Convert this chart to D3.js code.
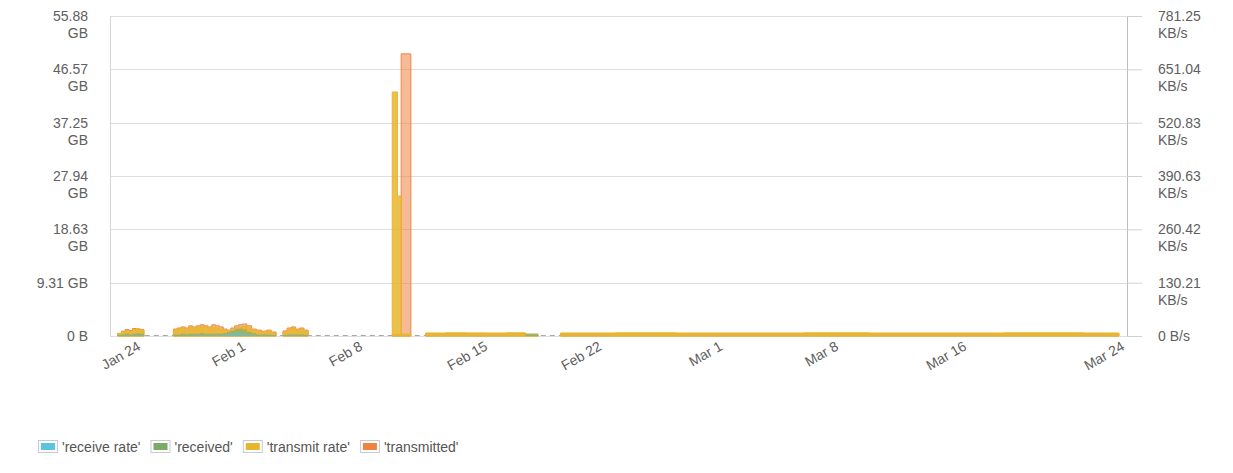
<!DOCTYPE html>
<html>
<head>
<meta charset="utf-8">
<script src="https://cdn.jsdelivr.net/npm/d3@7"></script>
<style>
  body { margin: 0; background: #fff; }
  svg { display: block; font-family: "Liberation Sans", Arial, sans-serif; }
</style>
</head>
<body>
<div id="chart"></div>
<script>
// Network traffic: bytes on the left axis, rates on the right axis

// Sample times (null values below mark gaps in the data)
const times = [
  "2024-01-22T08:00", "2024-01-22T15:00", "2024-01-22T22:00", "2024-01-23T05:00",
  "2024-01-23T12:00", "2024-01-23T19:00", "2024-01-24T02:00", "2024-01-24T09:00",
  "2024-01-25T06:00",
  "2024-01-26T15:00", "2024-01-26T22:00", "2024-01-27T05:00", "2024-01-27T12:00",
  "2024-01-27T19:00", "2024-01-28T02:00", "2024-01-28T09:00", "2024-01-28T16:00",
  "2024-01-28T23:00", "2024-01-29T06:00", "2024-01-29T13:00", "2024-01-29T20:00",
  "2024-01-30T03:00", "2024-01-30T10:00", "2024-01-30T17:00", "2024-01-31T00:00",
  "2024-01-31T07:00", "2024-01-31T14:00", "2024-01-31T21:00", "2024-02-01T04:00",
  "2024-02-01T11:00", "2024-02-01T18:00", "2024-02-02T01:00", "2024-02-02T08:00",
  "2024-02-02T15:00", "2024-02-02T22:00",
  "2024-02-03T02:00",
  "2024-02-03T08:00", "2024-02-03T14:00", "2024-02-03T20:00", "2024-02-04T02:00",
  "2024-02-04T08:00", "2024-02-04T14:00", "2024-02-04T20:00",
  "2024-02-06T00:00",
  "2024-02-09T18:00", "2024-02-10T01:00", "2024-02-10T06:00", "2024-02-10T19:00",
  "2024-02-11T03:00",
  "2024-02-11T15:00", "2024-02-12T18:00", "2024-02-13T21:00", "2024-02-15T00:00",
  "2024-02-16T06:00", "2024-02-17T10:00", "2024-02-18T05:00",
  "2024-02-18T18:00",
  "2024-02-19T14:00", "2024-02-23T00:00", "2024-02-27T00:00", "2024-03-02T00:00",
  "2024-03-06T00:00", "2024-03-10T00:00", "2024-03-14T00:00", "2024-03-18T00:00",
  "2024-03-22T00:00", "2024-03-23T19:00"
];

// B/s
const receiveRate = [
  1000, 1500, 2000, 1500, 2000, 2500, 2000, 2000,
  null,
  1500, 1500, 2500, 1500, 2500, 2500, 2500, 2500, 2500, 2500, 2500, 2500, 2500,
  4000, 6000, 8000, 10000, 9000, 7000, 5000, 2500, 1500, 1500, 1500, 1500, 1500,
  null,
  1500, 1500, 2500, 1500, 1500, 1500, 1500,
  null,
  0, 0, 0, 0,
  null,
  0, 0, 0, 0, 0, 0, 0,
  null,
  0, 0, 0, 0, 0, 0, 0, 0, 0, 0
];

// bytes
const received = [
  0.2e9, 0.3e9, 0.4e9, 0.3e9, 0.4e9, 0.5e9, 0.4e9, 0.4e9,
  null,
  0.3e9, 0.3e9, 0.4e9, 0.3e9, 0.4e9, 0.4e9, 0.4e9, 0.55e9, 0.4e9, 0.4e9, 0.4e9, 0.4e9, 0.4e9,
  0.55e9, 0.8e9, 1.0e9, 1.3e9, 1.4e9, 1.2e9, 0.8e9, 0.5e9, 0.3e9, 0.3e9, 0.3e9, 0.2e9, 0.2e9,
  null,
  0.2e9, 0.3e9, 0.3e9, 0.3e9, 0.3e9, 0.2e9, 0.2e9,
  null,
  0, 0, 0, 0,
  null,
  0, 0, 0, 0, 0, 0.5e9, 0.5e9,
  null,
  0, 0, 0, 0, 0, 0, 0, 0, 0, 0
];

// B/s
const transmitRate = [
  6000, 10000, 13000, 11000, 16000, 18000, 15000, 15000,
  null,
  15000, 17500, 20000, 17500, 22500, 20000, 22500, 25000, 22500, 20000, 22500, 20000, 17500,
  15000, 12500, 15000, 20000, 22500, 25000, 20000, 15000, 12500, 10000, 12500, 7500, 7500,
  null,
  10000, 17500, 20000, 15000, 17500, 12500, 12500,
  null,
  610000, 350000, 5000, 5000,
  null,
  7500, 8000, 7500, 7500, 8000, 2500, 2500,
  null,
  7500, 8000, 7500, 7500, 8000, 7500, 7500, 8000, 7500, 7500
];

// bytes
const transmitted = [
  0.5e9, 0.9e9, 1.2e9, 1.0e9, 1.4e9, 1.3e9, 1.2e9, 1.2e9,
  null,
  1.3e9, 1.5e9, 1.7e9, 1.5e9, 1.9e9, 1.7e9, 1.9e9, 2.1e9, 1.9e9, 1.7e9, 2.1e9, 1.9e9, 1.7e9,
  1.3e9, 1.1e9, 1.5e9, 1.9e9, 2.1e9, 2.25e9, 1.9e9, 1.3e9, 1.1e9, 0.9e9, 1.1e9, 0.75e9, 0.75e9,
  null,
  0.95e9, 1.5e9, 1.7e9, 1.3e9, 1.5e9, 1.1e9, 1.1e9,
  null,
  0.3e9, 0.3e9, 52.9e9, 52.9e9,
  null,
  0.45e9, 0.45e9, 0.5e9, 0.45e9, 0.45e9, 0.2e9, 0.2e9,
  null,
  0.45e9, 0.45e9, 0.45e9, 0.45e9, 0.45e9, 0.45e9, 0.45e9, 0.45e9, 0.45e9, 0.45e9
];

const xTickDates = ["2024-01-24", "2024-02-01", "2024-02-08", "2024-02-15", "2024-02-22",
                    "2024-03-01", "2024-03-08", "2024-03-16", "2024-03-24"];
const bytesTicks = [0, 10e9, 20e9, 30e9, 40e9, 50e9, 60e9];
const bytesTickLabels = ["0 B", "9.31 GB", "18.63 GB", "27.94 GB", "37.25 GB", "46.57 GB", "55.88 GB"];
const rateTicks = [0, 800000 / 6, 1600000 / 6, 400000, 3200000 / 6, 4000000 / 6, 800000];
const rateTickLabels = ["0 B/s", "130.21 KB/s", "260.42 KB/s", "390.63 KB/s", "520.83 KB/s", "651.04 KB/s", "781.25 KB/s"];

const legendNames = ["'receive rate'", "'received'", "'transmit rate'", "'transmitted'"];
const colors = ["#5cc3e0", "#79ab67", "#e8b52e", "#ef8440"];

const width = 1233, height = 473;
const plotLeft = 110, plotRight = 1127, plotTop = 16, plotBottom = 336;
const fontSize = 14;
const textColor = "#606060";

const svg = d3.select("#chart").append("svg")
  .attr("width", width)
  .attr("height", height);

const dates = times.map(t => new Date(t));

// The time axis is not evenly spaced in the original, so the scale is piecewise
const tickDates = xTickDates.map(d => new Date(d + "T00:00"));
const x = d3.scaleTime()
  .domain([new Date("2024-01-21T23:00"), ...tickDates])
  .range([113, 139, 244, 361, 486, 600, 721, 837, 965, 1123]);

const yBytes = d3.scaleLinear().domain([0, 60e9]).range([plotBottom, plotTop]);
const yRate = d3.scaleLinear().domain([0, 800000]).range([plotBottom, plotTop]);

// Gridlines
svg.append("g")
  .selectAll("line")
  .data(bytesTicks)
  .join("line")
    .attr("x1", plotLeft)
    .attr("x2", plotRight)
    .attr("y1", d => Math.round(yBytes(d)) + 0.5)
    .attr("y2", d => Math.round(yBytes(d)) + 0.5)
    .attr("stroke", "#dedede");

// Left axis line
svg.append("line")
  .attr("x1", plotLeft + 0.5).attr("x2", plotLeft + 0.5)
  .attr("y1", plotTop).attr("y2", plotBottom)
  .attr("stroke", "#d4d4d4");

// Y tick labels, wrapped onto two lines when long
function yLabels(g, ticks, labels, scale, xPos, anchor) {
  const t = g.selectAll("text")
    .data(ticks)
    .join("text")
      .attr("x", xPos)
      .attr("y", d => scale(d) + 5)
      .attr("text-anchor", anchor)
      .attr("fill", textColor)
      .attr("font-size", fontSize);
  t.each(function(d, i) {
    const label = labels[i];
    const el = d3.select(this);
    if (label.length > 7) {
      const parts = label.split(" ");
      el.append("tspan").attr("x", xPos).text(parts[0]);
      el.append("tspan").attr("x", xPos).attr("dy", 17).text(parts[1]);
    } else {
      el.text(label);
    }
  });
}

svg.append("g").call(yLabels, bytesTicks, bytesTickLabels, yBytes, 88, "end");

// Right axis with outer ticks
const rightAxis = svg.append("g").attr("transform", `translate(${plotRight},0)`);
rightAxis.call(d3.axisRight(yRate).tickValues(rateTicks).tickSize(15).tickFormat(""))
  .call(g => g.select(".domain").attr("stroke", "#bdbdbd").attr("d", `M0.5,${plotTop}V${plotBottom}`))
  .call(g => g.selectAll(".tick line").attr("stroke", "#d0d0d0"));
svg.append("g").call(yLabels, rateTicks, rateTickLabels, yRate, 1158, "start");

// Dashed baseline where there is no data
svg.append("line")
  .attr("x1", x(dates[0])).attr("x2", x(dates[dates.length - 1]))
  .attr("y1", plotBottom - 0.5).attr("y2", plotBottom - 0.5)
  .attr("stroke", "#a8a8a8")
  .attr("stroke-dasharray", "5,4");

// Areas, drawn so the smaller series stay on top
const seriesList = [
  {values: transmitted, y: yBytes, color: colors[3], opacity: 0.55, stroke: true},
  {values: transmitRate, y: yRate, color: colors[2], opacity: 0.85, stroke: true},
  {values: received, y: yBytes, color: colors[1], opacity: 0.6, stroke: false},
  {values: receiveRate, y: yRate, color: colors[0], opacity: 0.55, stroke: false}
];

seriesList.forEach(s => {
  const area = d3.area()
    .defined((d, i) => s.values[i] != null)
    .x(d => x(d))
    .y0(plotBottom)
    .y1((d, i) => s.y(s.values[i]))
    .curve(d3.curveStepAfter);

  svg.append("path")
    .datum(dates)
    .attr("d", area)
    .attr("fill", s.color)
    .attr("fill-opacity", s.opacity)
    .attr("stroke", s.stroke ? s.color : "none")
    .attr("stroke-width", 1)
    .attr("stroke-linejoin", "round");
});

// X axis, rotated labels
const xAxis = svg.append("g")
  .attr("transform", `translate(0,${plotBottom})`)
  .call(d3.axisBottom(x)
    .tickValues(tickDates)
    .tickFormat(d3.timeFormat("%b %-d"))
    .tickSize(0));
xAxis.select(".domain").remove();
xAxis.selectAll("text")
  .attr("fill", textColor)
  .attr("font-size", fontSize)
  .attr("font-family", "Liberation Sans, Arial, sans-serif")
  .attr("text-anchor", "end")
  .attr("dy", null)
  .attr("y", 0)
  .attr("transform", "translate(2,13) rotate(-30)");

// Legend
const legend = svg.append("g").attr("transform", "translate(38,447)");
let lx = 0;
legendNames.forEach((name, i) => {
  const item = legend.append("g").attr("transform", `translate(${lx},0)`);
  item.append("rect")
    .attr("x", 0.5).attr("y", -6.5)
    .attr("width", 19).attr("height", 12)
    .attr("fill", "#fff")
    .attr("stroke", "#c9c9d4");
  item.append("rect")
    .attr("x", 3).attr("y", -4)
    .attr("width", 14).attr("height", 7)
    .attr("fill", colors[i]);
  const txt = item.append("text")
    .attr("x", 24)
    .attr("y", 5)
    .attr("fill", "#555")
    .attr("font-size", fontSize)
    .text(name);
  lx += 24 + txt.node().getComputedTextLength() + 10;
});
</script>
</body>
</html>
